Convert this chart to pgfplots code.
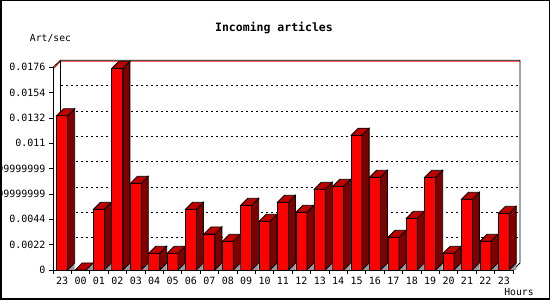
\documentclass[border=0pt]{standalone}
\usepackage{pgfplots}
\pgfplotsset{compat=1.18}
\usepackage{pgfplotstable}
\usepackage{fontspec}
\setmainfont{DejaVu Sans Mono}
\setmonofont{DejaVu Sans Mono}
\definecolor{frontc}{HTML}{FF0000}
\definecolor{topc}{HTML}{C00000}
\definecolor{sidec}{HTML}{800000}
\definecolor{floorc}{HTML}{999999}

\pgfplotstableread{
x v
0 0.0134
1 0
2 0.00527
3 0.01751
4 0.00753
5 0.00145
6 0.00145
7 0.00527
8 0.00313
9 0.00249
10 0.00562
11 0.00423
12 0.00588
13 0.00501
14 0.00701
15 0.00727
16 0.0117
17 0.00805
18 0.00284
19 0.00449
20 0.00805
21 0.00145
22 0.00614
23 0.00249
24 0.00492
}\datatable

\pgfdeclareplotmark{bar3d}{%
  \pgfmathsetmacro\hb{-\vv*202.7/0.0176}%
  \pgfmathsetmacro\ht{7-\vv*202.7/0.0176}%
  \pgfsetlinewidth{0.8pt}%
  \pgfsetstrokecolor{black}%
  % floor shadow triangle
  \pgfpathmoveto{\pgfpoint{5.5pt}{\hb pt}}%
  \pgfpathlineto{\pgfpoint{12.5pt}{\hb pt}}%
  \pgfpathlineto{\pgfpoint{12.5pt}{\ht pt}}%
  \pgfpathclose
  \pgfsetfillcolor{floorc}%
  \pgfusepath{fill}%
  % side face
  \pgfpathmoveto{\pgfpoint{5.5pt}{0pt}}%
  \pgfpathlineto{\pgfpoint{12.5pt}{7pt}}%
  \pgfpathlineto{\pgfpoint{12.5pt}{\ht pt}}%
  \pgfpathlineto{\pgfpoint{5.5pt}{\hb pt}}%
  \pgfpathclose
  \pgfsetfillcolor{sidec}%
  \pgfusepath{fill,stroke}%
  % top face
  \pgfpathmoveto{\pgfpoint{-5.5pt}{0pt}}%
  \pgfpathlineto{\pgfpoint{5.5pt}{0pt}}%
  \pgfpathlineto{\pgfpoint{12.5pt}{7pt}}%
  \pgfpathlineto{\pgfpoint{1.5pt}{7pt}}%
  \pgfpathclose
  \pgfsetfillcolor{topc}%
  \pgfusepath{fill,stroke}%
}

\begin{document}
\begin{tikzpicture}[x=1pt,y=1pt]
\useasboundingbox (0,0) rectangle (550,300);
\fill[white] (0,0) rectangle (550,300);
% back wall grid
\foreach \k in {1,...,7}
  \draw[line width=0.8pt, dash pattern=on 2pt off 3pt] (61,{37+\k*25.3375}) -- (520,{37+\k*25.3375});
% back wall frame
\draw[red, line width=0.8pt] (54,231.9) -- (60.5,238.7) -- (520,238.7);
\draw[black, line width=0.8pt] (53,232.7) -- (60.5,239.7) -- (520,239.7) -- (520,37) -- (513,30);
\draw[black, line width=0.8pt] (60.5,239.7) -- (60.5,37);
\begin{axis}[
  at={(53pt,30pt)}, anchor=south west,
  width=460pt, height=202.7pt, scale only axis,
  xmin=-0.5, xmax=24.5, ymin=0, ymax=0.0176,
  clip=false,
  axis x line=bottom, axis y line=left,
  axis line style={-, line width=0.8pt, black},
  xtick={0,...,24},
  xticklabels={23,00,01,02,03,04,05,06,07,08,09,10,11,12,13,14,15,16,17,18,19,20,21,22,23},
  major x tick style={draw=none},
  minor xtick={-0.5,0.5,...,24.5},
  ytick={0,0.0022,0.0044,0.0066,0.0088,0.011,0.0132,0.0154,0.0176},
  yticklabels={0,0.0022,0.0044,0.0065999999999,0.0087999999999,0.011,0.0132,0.0154,0.0176},
  tick align=outside,
  major tick length=4pt, minor tick length=4pt,
  tick style={black, line width=0.8pt},
  ticklabel style={font=\fontsize{10}{12}\selectfont},
  scaled y ticks=false,
]
\addplot[ybar, bar width=11pt, fill=frontc, draw=black, line width=0.8pt] table[x=x,y=v]{\datatable};
\addplot[only marks, mark=bar3d, visualization depends on={\thisrow{v} \as \vv}] table[x=x,y=v]{\datatable};
\end{axis}
\node[font=\bfseries\fontsize{11.5}{13}\selectfont] at (274,272) {Incoming articles};
\node[font=\fontsize{9.75}{11}\selectfont] at (50.5,261.4) {Art/sec};
\node[font=\fontsize{9.75}{11}\selectfont] at (519,8) {Hours};
\draw[line width=1.5pt] (0.75,0.75) rectangle (549.25,299.25);
\end{tikzpicture}
\end{document}
